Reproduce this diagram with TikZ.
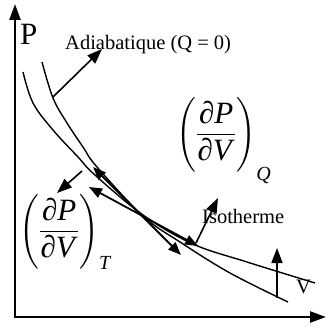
\documentclass[tikz,border=0pt]{standalone}
\usepackage{amsmath}
\usepackage{fontspec}
\setmainfont{Liberation Serif}
\usetikzlibrary{arrows.meta}
\newcommand{\pfrac}[2]{$\displaystyle\left(\rule[-31pt]{0pt}{77pt}\frac{\mbox{\hspace{2pt}∂\textit{P}\hspace{2pt}}}{\mbox{∂\textit{V}}}\right)_{\raisebox{#2}{\fontsize{20}{20}\selectfont\textit{#1}}}$}
\begin{document}
\begin{tikzpicture}[x=1pt,y=-1pt,
  axis/.style={line width=2.4pt,-{Triangle[length=16pt,width=11pt]}},
  curve/.style={line width=1.4pt},
  tang/.style={line width=1.8pt,{Triangle[length=13pt,width=10pt]}-{Triangle[length=13pt,width=10pt]}},
  norm/.style={line width=1.6pt,-{Triangle[length=15pt,width=11pt]}},
  lbl/.style={font=\fontsize{20.5}{24}\selectfont,inner sep=0pt},
  big/.style={font=\fontsize{31}{36}\selectfont,inner sep=0pt}]
\useasboundingbox (0,0) rectangle (326,329);
% axes
\coordinate (Ytop) at (15,4);
\coordinate (Xend) at (326,317);
\coordinate (Ybot) at (15,318.2);
\coordinate (Xbeg) at (13.8,317);
\draw[axis] (Ybot) -- (Ytop);
\draw[axis] (Xbeg) -- (Xend);
% curves
\draw[curve] plot[smooth,tension=0.6] coordinates {(23,72) (33,103) (53,130) (78,157) (95,175) (143,215) (193,244) (247,262) (315,283)};
\draw[curve] plot[smooth,tension=0.6] coordinates {(42,62) (53,98) (67,123) (83,147) (97,167) (143,216) (180,242) (230,273) (288,302)};
% named points
\coordinate (a1) at (53,97);
\coordinate (a2) at (102,49);
\coordinate (t1a) at (93,167);
\coordinate (t1b) at (181,255);
\coordinate (t2a) at (89,187);
\coordinate (t2b) at (198,246);
\coordinate (s1) at (82,171);
\coordinate (s2) at (57,193);
\coordinate (i1) at (196,243);
\coordinate (i2) at (218,198);
\coordinate (v1) at (277,298);
\coordinate (v2) at (277,248);
% labels
\node[big,anchor=base west] (P) at (20,45) {P};
\node[lbl,anchor=base west] (adia) at (65,49) {Adiabatique (Q = 0)};
\node[lbl,anchor=base west] (iso) at (202,223) {Isotherme};
\node[lbl,anchor=base west] (V) at (296,293) {V};
\node[big,anchor=base west] (dQ) at (176,140.75) {\pfrac{Q}{-8pt}};
\node[big,anchor=base west] (dT) at (19,237.75) {\pfrac{T}{0pt}};
% arrows
\draw[norm] (a1) -- (a2);
\draw[tang] (t1a) -- (t1b);
\draw[tang] (t2a) -- (t2b);
\draw[norm] (s1) -- (s2);
\draw[norm] (i1) -- (i2);
\draw[norm] (v1) -- (v2);
\end{tikzpicture}
\end{document}
